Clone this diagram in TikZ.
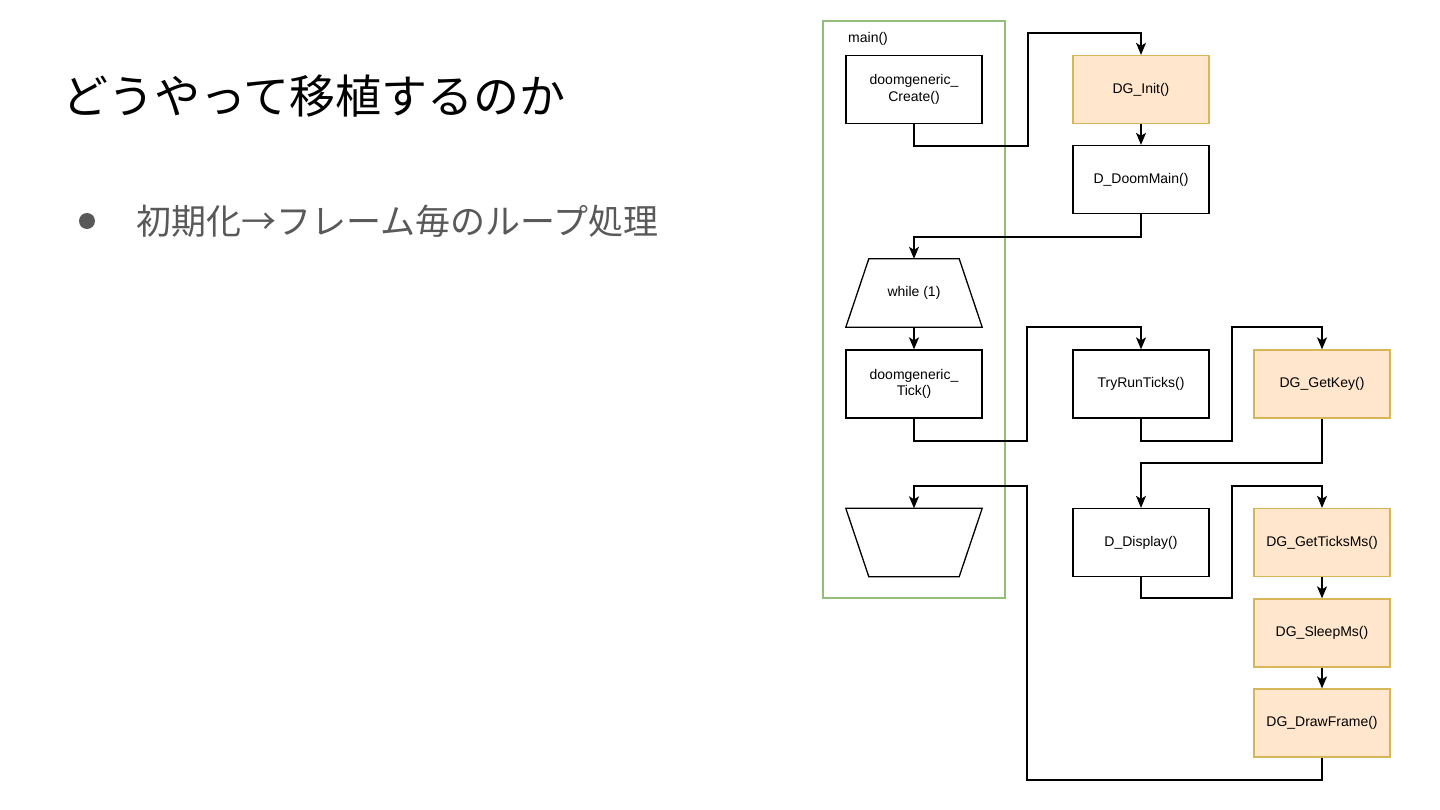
\documentclass[tikz,border=0pt]{standalone}
\usepackage{fontspec}
\setmainfont{Liberation Sans}
\newfontfamily\jp{Noto Sans CJK JP}
\usetikzlibrary{arrows.meta}
\definecolor{grn}{HTML}{93BE7A}
\definecolor{ofill}{HTML}{FFE6CC}
\definecolor{ostroke}{HTML}{D6B656}
\definecolor{txtgray}{HTML}{595959}
\begin{document}
\begin{tikzpicture}[x=1pt,y=-1pt,
  box/.style={draw=black,line width=1.3pt,minimum width=136pt,minimum height=68pt,inner sep=0pt,align=center,font=\fontsize{14}{16.5}\selectfont},
  obox/.style={box,fill=ofill,draw=ostroke},
  plain/.style={minimum width=136pt,minimum height=68pt,inner sep=0pt,align=center,font=\fontsize{14}{16.5}\selectfont},
  arr/.style={draw=black,line width=1.3pt,-{Stealth[length=12pt,width=10pt,inset=3pt]}},
  conn/.style={draw=black,line width=1.3pt}]
\useasboundingbox (0,0) rectangle (1440,810);
\fill[white] (0,0) rectangle (1440,810);
% left text
\node[anchor=west,inner sep=0pt,font=\jp\fontsize{46}{52}\selectfont] (title) at (62,96) {どうやって移植するのか};
\node[circle,fill=txtgray,inner sep=0pt,minimum size=16pt] (bullet) at (87,221) {};
\node[anchor=west,inner sep=0pt,text=txtgray,font=\jp\fontsize{35}{40}\selectfont] (item) at (136,221) {初期化→フレーム毎のループ処理};
% container
\node[draw=grn,line width=2.5pt,minimum width=182pt,minimum height=577pt,inner sep=0pt] (mainbox) at (914,309.5) {};
\node[anchor=west,inner sep=0pt,font=\fontsize{14}{16}\selectfont] (mainlbl) at (848,39) {main()};
% nodes
\node[box] (create) at (914,89.5) {doomgeneric\_\\Create()};
\node[obox] (init) at (1141,89.5) {DG\_Init()};
\node[box] (doommain) at (1141,179.5) {D\_DoomMain()};
\node[plain] (while) at (914,293) {while (1)};
\draw[line width=1.3pt] (while.south west) -- (while.south east) -- ([xshift=-23pt]while.north east) -- ([xshift=23pt]while.north west) -- cycle;
\node[box] (tick) at (914,384) {doomgeneric\_\\Tick()};
\node[box] (tryrun) at (1141,384) {TryRunTicks()};
\node[obox] (getkey) at (1322,384) {DG\_GetKey()};
\node[plain] (endw) at (914,542.5) {};
\draw[line width=1.3pt] (endw.north west) -- (endw.north east) -- ([xshift=-23pt]endw.south east) -- ([xshift=23pt]endw.south west) -- cycle;
\node[box] (display) at (1141,542.5) {D\_Display()};
\node[obox] (getticks) at (1322,542.5) {DG\_GetTicksMs()};
\node[obox] (sleep) at (1322,633) {DG\_SleepMs()};
\node[obox] (drawf) at (1322,723) {DG\_DrawFrame()};
% connectors
\draw[arr] (create.south) |- (1028,146) |- (1141,33) -- (init.north);
\draw[arr] (init.south) -- (doommain.north);
\draw[arr] (doommain.south) |- (914,237) -- (while.north);
\draw[arr] (while.south) -- (tick.north);
\draw[arr] (tick.south) |- (1027,441) |- (1141,327) -- (tryrun.north);
\draw[arr] (tryrun.south) |- (1232,441) |- (1322,327) -- (getkey.north);
\draw[arr] (getkey.south) |- (1141,463) -- (display.north);
\draw[arr] (display.south) |- (1232,598) |- (1322,486) -- (getticks.north);
\draw[arr] (getticks.south) -- (sleep.north);
\draw[arr] (sleep.south) -- (drawf.north);
\draw[arr] (drawf.south) |- (1027,780) |- (914,486) -- (endw.north);
\end{tikzpicture}
\end{document}
